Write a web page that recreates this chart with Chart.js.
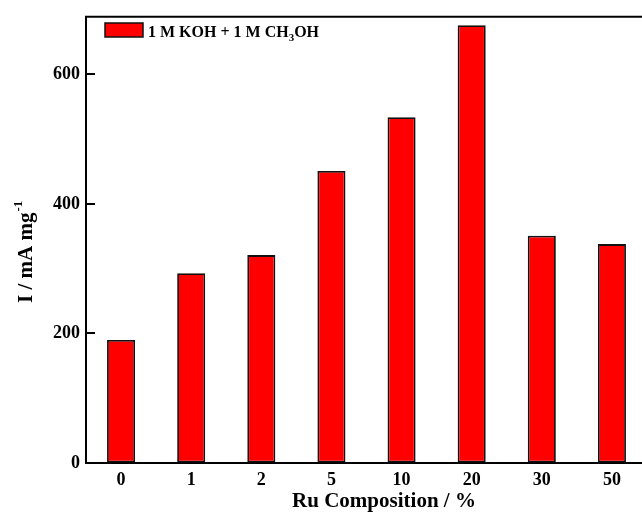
<!DOCTYPE html>
<html>
<head>
<meta charset="utf-8">
<script src="https://cdn.jsdelivr.net/npm/chart.js@4/dist/chart.umd.min.js"></script>
<style>
  html, body { margin: 0; padding: 0; background: #fff; overflow: hidden; }
  #wrap { width: 660px; height: 513px; }
</style>
</head>
<body>
<div id="wrap"><canvas id="ruChart" width="660" height="513"></canvas></div>
<script>
// Ru composition (%) vs. mass activity
const categories = ["0", "1", "2", "5", "10", "20", "30", "50"];
const activity = [190, 293, 321, 451, 534, 676, 351, 338];
const yTicks = [0, 200, 400, 600];
const legendParts = [
  { text: "1 M KOH + 1 M CH" },
  { text: "3", sub: true },
  { text: "OH" }
];

const FONT = "'Liberation Serif', 'Times New Roman', serif";
const BAR_RED = "#ff0000";

// frame, inward y ticks, axis titles and legend
const decorations = {
  id: "decorations",
  afterDraw(chart) {
    const ctx = chart.ctx;
    const area = chart.chartArea;
    const y = chart.scales.y;
    ctx.save();
    ctx.strokeStyle = "#000";
    ctx.lineWidth = 2;

    // top frame line
    ctx.beginPath();
    ctx.moveTo(area.left - 1, area.top);
    ctx.lineTo(area.right + 1, area.top);
    ctx.stroke();

    // major ticks pointing into the plot
    yTicks.forEach(v => {
      const py = Math.round(y.getPixelForValue(v));
      ctx.beginPath();
      ctx.moveTo(area.left, py);
      ctx.lineTo(area.left + 9, py);
      ctx.stroke();
    });

    ctx.fillStyle = "#000";
    ctx.textBaseline = "alphabetic";

    // x title
    ctx.font = "bold 21px " + FONT;
    ctx.textAlign = "center";
    ctx.fillText("Ru Composition / %", 384, 507);

    // y title with superscript
    ctx.save();
    ctx.translate(32, 303);
    ctx.rotate(-Math.PI / 2);
    ctx.textAlign = "left";
    ctx.font = "bold 21px " + FONT;
    const main = "I / mA mg";
    ctx.fillText(main, 0, 0);
    const w = ctx.measureText(main).width;
    ctx.font = "bold 13px " + FONT;
    ctx.fillText("-1", w + 1, -10);
    ctx.restore();

    // legend
    const ds = chart.data.datasets[0];
    ctx.fillStyle = ds.backgroundColor;
    ctx.fillRect(105, 23, 38, 14);
    ctx.lineWidth = 1.5;
    ctx.strokeStyle = "#111";
    ctx.strokeRect(105, 23, 38, 14);
    ctx.fillStyle = "#000";
    ctx.textAlign = "left";
    let x = 148;
    legendParts.forEach(p => {
      ctx.font = (p.sub ? "bold 11px " : "bold 16px ") + FONT;
      ctx.fillText(p.text, x, p.sub ? 41 : 37);
      x += ctx.measureText(p.text).width;
    });

    ctx.restore();
  }
};

new Chart(document.getElementById("ruChart").getContext("2d"), {
  type: "bar",
  data: {
    labels: categories,
    datasets: [{
      label: "1 M KOH + 1 M CH3OH",
      data: activity,
      backgroundColor: BAR_RED,
      borderColor: "#111",
      borderWidth: 1.8,
      borderSkipped: false,
      barPercentage: 0.4,
      categoryPercentage: 1.0
    }]
  },
  options: {
    responsive: false,
    animation: false,
    layout: { padding: { left: 0, top: 14, right: 13, bottom: 0 } },
    plugins: {
      legend: { display: false },
      tooltip: { enabled: false }
    },
    scales: {
      x: {
        offset: true,
        afterFit: s => { s.height = 50; },
        grid: { display: true, drawOnChartArea: false, drawTicks: false },
        border: { display: true, color: "#000", width: 2 },
        ticks: {
          padding: 7,
          color: "#000",
          font: { family: FONT, size: 18, weight: "bold" }
        }
      },
      y: {
        min: 0,
        max: 689,
        afterFit: s => { s.width = 86; },
        afterBuildTicks: s => { s.ticks = yTicks.map(v => ({ value: v })); },
        grid: { display: true, drawOnChartArea: false, drawTicks: false },
        border: { display: true, color: "#000", width: 2 },
        ticks: {
          padding: 6,
          color: "#000",
          font: { family: FONT, size: 18, weight: "bold" }
        }
      }
    }
  },
  plugins: [decorations]
});
</script>
</body>
</html>
